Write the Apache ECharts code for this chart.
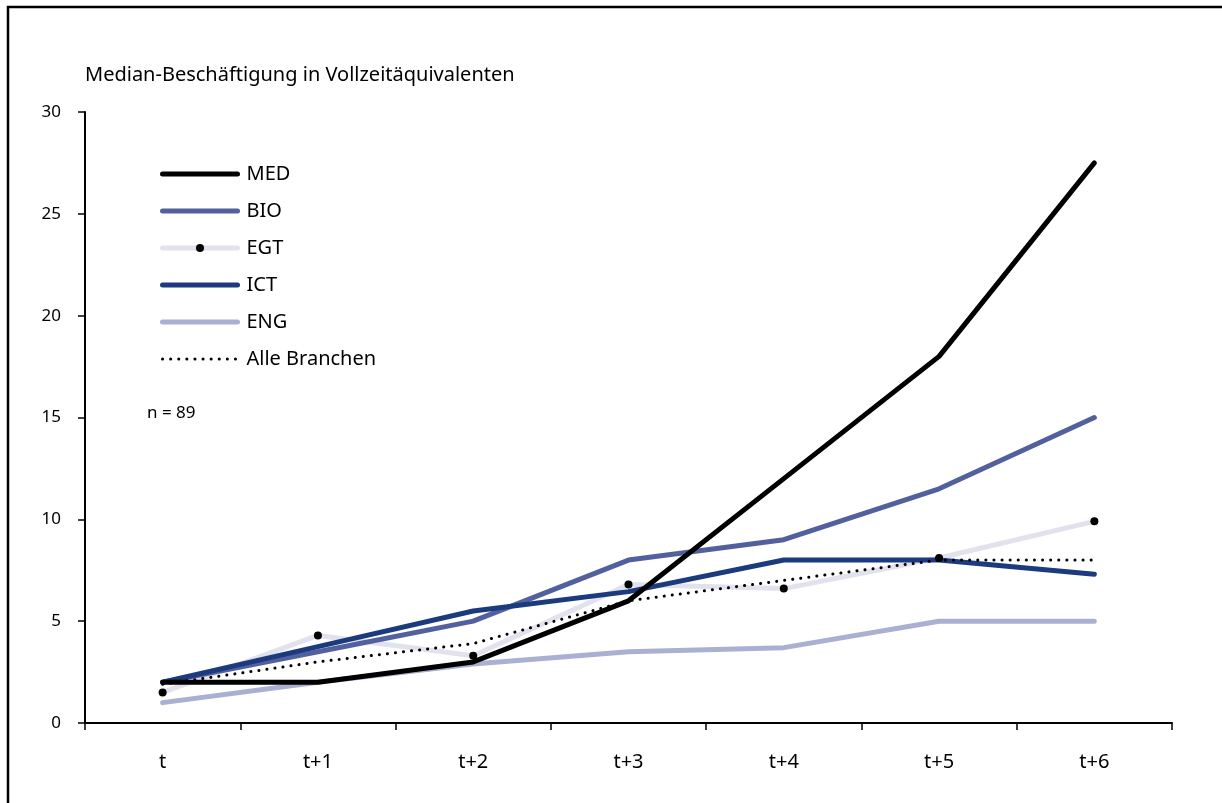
<!DOCTYPE html>
<html>
<head>
<meta charset="utf-8">
<script src="https://cdn.jsdelivr.net/npm/echarts@6/dist/echarts.min.js"></script>
<style>
  html, body { margin: 0; padding: 0; background: #fff; }
  #chart { width: 1222px; height: 803px; }
</style>
</head>
<body>
<div id="chart"></div>
<script>
// Kategorien (Jahre nach Gründung)
const categories = ["t", "t+1", "t+2", "t+3", "t+4", "t+5", "t+6"];

// Median-Beschäftigung je Branche
const med = [2, 2, 3, 6, 12, 18, 27.5];
const bio = [2, 3.5, 5, 8, 9, 11.5, 15];
const egt = [1.5, 4.3, 3.3, 6.8, 6.6, 8.1, 9.9];
const ict = [2, 3.75, 5.5, 6.45, 8, 8, 7.3];
const eng = [1, 2, 2.9, 3.5, 3.7, 5, 5];
const alle = [1.9, 3, 3.9, 6, 7, 8, 8];

const yTicks = [0, 5, 10, 15, 20, 25, 30];

const FONT = "Noto Sans";
const chart = echarts.init(document.getElementById("chart"));

function lineSeries(name, data, color, extra) {
  return Object.assign({
    name: name,
    type: "line",
    data: data,
    symbol: "none",
    lineStyle: { color: color, width: 5, cap: "round", join: "round" },
    itemStyle: { color: color },
    emphasis: { disabled: true },
  }, extra || {});
}

const dotted = { color: "#000", width: 3, type: [0.1, 8], cap: "round" };

// Legendeneinträge ohne Punkt, außer EGT
function legendItem(name, showDot, lineStyle) {
  const item = { name: name, lineStyle: lineStyle || { width: 5, cap: "round" } };
  if (!showDot) item.itemStyle = { opacity: 0 };
  return item;
}

chart.setOption({
  animation: false,
  textStyle: { fontFamily: FONT },
  title: {
    text: "Median-Beschäftigung in Vollzeitäquivalenten",
    left: 80,
    top: 60,
    textStyle: { fontFamily: FONT, fontSize: 20, fontWeight: "normal", color: "#000" },
  },
  legend: {
    orient: "vertical",
    left: 155,
    top: 159,
    itemWidth: 75,
    itemHeight: 10,
    itemGap: 17,
    data: [
      legendItem("MED"),
      legendItem("BIO"),
      legendItem("EGT", true),
      legendItem("ICT"),
      legendItem("ENG"),
      legendItem("Alle Branchen", false, dotted),
    ],
    textStyle: { fontFamily: FONT, fontSize: 20, color: "#000", padding: [0, 0, 0, 4] },
  },
  grid: { left: 85, right: 50, top: 112, bottom: 80 },
  xAxis: {
    type: "category",
    data: categories,
    boundaryGap: true,
    axisLine: { lineStyle: { color: "#000", width: 2 } },
    axisTick: { show: true, interval: 0, length: 7, lineStyle: { color: "#000", width: 1.5 } },
    axisLabel: { fontFamily: FONT, fontSize: 20, color: "#000", margin: 29 },
    splitLine: { show: false },
  },
  yAxis: {
    type: "value",
    min: yTicks[0],
    max: yTicks[yTicks.length - 1],
    interval: 5,
    axisLine: { show: true, lineStyle: { color: "#000", width: 2 } },
    axisTick: { show: true, length: 7, lineStyle: { color: "#000", width: 1.5 } },
    axisLabel: { fontFamily: FONT, fontSize: 17, color: "#000", margin: 24 },
    splitLine: { show: false },
  },
  series: [
    lineSeries("ENG", eng, "#aab0d2"),
    lineSeries("EGT", egt, "#e2e2ee", {
      symbol: "circle",
      symbolSize: 8,
      itemStyle: { color: "#000" },
    }),
    lineSeries("BIO", bio, "#52619e"),
    lineSeries("ICT", ict, "#1c3a7e"),
    lineSeries("MED", med, "#000000"),
    lineSeries("Alle Branchen", alle, "#000", { lineStyle: dotted }),
  ],
  graphic: [
    {
      type: "rect",
      shape: { x: 8, y: 7, width: 1240, height: 830 },
      style: { fill: null, stroke: "#000", lineWidth: 2.5 },
      silent: true,
    },
    {
      type: "text",
      left: 147,
      top: 405,
      style: { text: "n = 89", font: "17px " + FONT, fill: "#000" },
    },
  ],
});
</script>
</body>
</html>
